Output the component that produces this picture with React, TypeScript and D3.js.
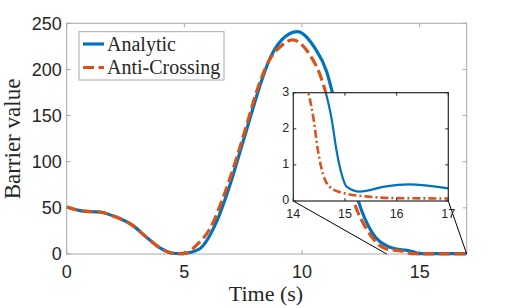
import React from "react";
import * as d3 from "d3";

// time samples (s) and barrier values
const analyticT = [0, 0.7, 1.4, 2.1, 2.8, 3.4, 4.0, 4.5, 4.8, 5.1, 5.67, 6.37, 6.94, 7.37, 7.79, 8.22, 8.64, 9.14, 9.8, 10.55, 11.05, 11.29, 11.85, 12.4, 12.96, 13.67, 14.1, 14.4, 14.63, 14.74, 14.84, 14.94, 15.03, 15.29, 15.77, 16.23, 17];
const analyticV = [51, 46.5, 45.5, 40, 31, 18, 6, 0.8, 0.3, 1, 6, 35, 75, 111, 147, 183, 212, 232, 241, 223, 197.5, 175, 115, 57, 24, 8, 5, 4.2, 3, 2.29, 1.37, 0.72, 0.4, 0.26, 0.4, 0.46, 0.35];

const crossingT = [0, 0.7, 1.4, 2.1, 2.8, 3.4, 4.0, 4.5, 4.8, 5.1, 5.52, 6.1, 6.66, 7.22, 7.65, 8.07, 8.57, 9.14, 9.6, 10.34, 10.77, 11.01, 11.6, 12.2, 12.82, 13.53, 13.9, 14.1, 14.29, 14.39, 14.48, 14.58, 14.74, 15.0, 15.45, 16.0, 17];
const crossingV = [51, 46.5, 45.5, 40, 31, 18, 6, 0.8, 0.3, 1.2, 9.7, 28, 62, 104, 140, 176, 208, 226, 232, 215.6, 194, 175, 116, 57, 24, 6, 4.2, 3.5, 3, 2.29, 1.37, 0.72, 0.35, 0.21, 0.12, 0.08, 0.07];

const xTicks = [0, 5, 10, 15];
const yTicks = [0, 50, 100, 150, 200, 250];
const insetXTicks = [14, 15, 16, 17];
const insetYTicks = [0, 1, 2, 3];
const zoomFrom = 13.6; // where the left connector meets the main axis

const BLUE = "#0072BD";
const ORANGE = "#D95319";
const TICK_FONT = "'Liberation Sans', Arial, sans-serif";
const LABEL_FONT = "'Liberation Serif', 'DejaVu Serif', serif";

type Pt = [number, number];
const zip = (t: number[], v: number[]): Pt[] => t.map((d, i) => [d, v[i]]);

export default function App() {
  const W = 515;
  const H = 308;
  const m = { left: 66.7, right: 466.7, top: 23.3, bottom: 254 };
  const ins = { left: 293.3, right: 448.3, top: 92.7, bottom: 201 };

  const x = d3.scaleLinear().domain([0, 17]).range([m.left, m.right]);
  const y = d3.scaleLinear().domain([0, 250]).range([m.bottom, m.top]);
  const xi = d3.scaleLinear().domain([14, 17]).range([ins.left, ins.right]);
  const yi = d3.scaleLinear().domain([0, 3]).range([ins.bottom, ins.top]);

  const analytic = zip(analyticT, analyticV);
  const crossing = zip(crossingT, crossingV);

  const mainLine = d3
    .line<Pt>()
    .x((d) => x(d[0]))
    .y((d) => y(d[1]))
    .curve(d3.curveMonotoneX);
  const insetLine = d3
    .line<Pt>()
    .x((d) => xi(d[0]))
    .y((d) => yi(d[1]))
    .curve(d3.curveMonotoneX);

  const axisGray = "#a8a8a8";
  const dark = "#262626";

  return (
    <svg
      width={W}
      height={H}
      style={{ position: "absolute", left: 0, top: 0, background: "#fff" }}
    >
      <defs>
        <clipPath id="mainClip">
          <rect x={m.left} y={m.top - 4} width={m.right - m.left} height={m.bottom - m.top + 8} />
        </clipPath>
        <clipPath id="insetClip">
          <rect x={ins.left} y={ins.top} width={ins.right - ins.left} height={ins.bottom - ins.top} />
        </clipPath>
      </defs>

      {/* main axes box */}
      <rect
        x={m.left}
        y={m.top}
        width={m.right - m.left}
        height={m.bottom - m.top}
        fill="#fff"
        stroke={axisGray}
        strokeWidth={1}
      />
      {xTicks.map((t) => (
        <g key={"xt" + t}>
          <line x1={x(t)} x2={x(t)} y1={m.bottom} y2={m.bottom - 4} stroke={axisGray} />
          <line x1={x(t)} x2={x(t)} y1={m.top} y2={m.top + 4} stroke={axisGray} />
          <text
            x={x(t)}
            y={m.bottom + 24}
            textAnchor="middle"
            fontFamily={TICK_FONT}
            fontSize={18}
            fill={dark}
          >
            {t}
          </text>
        </g>
      ))}
      {yTicks.map((v) => (
        <g key={"yt" + v}>
          <line x1={m.left} x2={m.left + 4} y1={y(v)} y2={y(v)} stroke={axisGray} />
          <line x1={m.right} x2={m.right - 4} y1={y(v)} y2={y(v)} stroke={axisGray} />
          <text
            x={m.left - 5}
            y={y(v)}
            dy="0.35em"
            textAnchor="end"
            fontFamily={TICK_FONT}
            fontSize={18}
            fill={dark}
          >
            {v}
          </text>
        </g>
      ))}

      <g clipPath="url(#mainClip)">
        <path d={mainLine(analytic)!} fill="none" stroke={BLUE} strokeWidth={3.2} />
        <path
          d={mainLine(crossing)!}
          fill="none"
          stroke={ORANGE}
          strokeWidth={3.2}
          strokeDasharray="11,4.5"
        />
      </g>

      <text
        x={266}
        y={301}
        textAnchor="middle"
        fontFamily={LABEL_FONT}
        fontSize={22}
        fill={dark}
      >
        Time (s)
      </text>
      <text
        transform={`translate(20,139) rotate(-90)`}
        textAnchor="middle"
        fontFamily={LABEL_FONT}
        fontSize={23}
        fill={dark}
      >
        Barrier value
      </text>

      {/* legend */}
      <rect x={79} y={31.7} width={145} height={48.3} fill="#fff" stroke={axisGray} />
      <line x1={83} x2={104} y1={44} y2={44} stroke={BLUE} strokeWidth={3.2} />
      <line x1={83} x2={104} y1={67.5} y2={67.5} stroke={ORANGE} strokeWidth={3.2} strokeDasharray="11,4.5" />
      <text x={107} y={44} dy="0.33em" fontFamily={LABEL_FONT} fontSize={20} fill={dark}>
        Analytic
      </text>
      <text x={107} y={67.5} dy="0.33em" fontFamily={LABEL_FONT} fontSize={20} fill={dark}>
        Anti-Crossing
      </text>

      {/* connectors from inset to zoomed region */}
      <line x1={ins.left} y1={ins.bottom} x2={x(zoomFrom)} y2={y(0)} stroke="#000" strokeWidth={1} />
      <line x1={ins.right} y1={ins.bottom} x2={x(17)} y2={y(0)} stroke="#000" strokeWidth={1} />

      {/* inset */}
      <rect
        x={ins.left}
        y={ins.top}
        width={ins.right - ins.left}
        height={ins.bottom - ins.top}
        fill="#fff"
      />
      <g clipPath="url(#insetClip)">
        <path d={insetLine(analytic)!} fill="none" stroke={BLUE} strokeWidth={2.2} />
        <path
          d={insetLine(crossing)!}
          fill="none"
          stroke={ORANGE}
          strokeWidth={2.6}
          strokeDasharray="8,3,2,3"
        />
      </g>
      <rect
        x={ins.left}
        y={ins.top}
        width={ins.right - ins.left}
        height={ins.bottom - ins.top}
        fill="none"
        stroke={dark}
        strokeWidth={1.2}
      />
      {insetXTicks.map((t) => (
        <g key={"ixt" + t}>
          <line x1={xi(t)} x2={xi(t)} y1={ins.bottom} y2={ins.bottom - 3} stroke={dark} />
          <line x1={xi(t)} x2={xi(t)} y1={ins.top} y2={ins.top + 3} stroke={dark} />
          <text
            x={xi(t)}
            y={ins.bottom + 17}
            textAnchor="middle"
            fontFamily={TICK_FONT}
            fontSize={12.5}
            fill={dark}
          >
            {t}
          </text>
        </g>
      ))}
      {insetYTicks.map((v) => (
        <g key={"iyt" + v}>
          <line x1={ins.left} x2={ins.left + 3} y1={yi(v)} y2={yi(v)} stroke={dark} />
          <line x1={ins.right} x2={ins.right - 3} y1={yi(v)} y2={yi(v)} stroke={dark} />
          <text
            x={ins.left - 4}
            y={yi(v) - 1}
            dy="0.35em"
            textAnchor="end"
            fontFamily={TICK_FONT}
            fontSize={12.5}
            fill={dark}
          >
            {v}
          </text>
        </g>
      ))}
    </svg>
  );
}
